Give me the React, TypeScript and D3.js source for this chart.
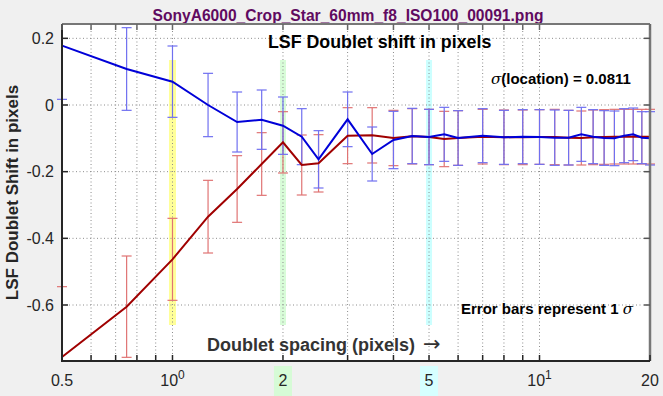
import React from "react";
import * as d3 from "d3";

// doublet spacing (pixels)
const spacing = [0.5, 0.75, 1, 1.25, 1.5, 1.75, 2, 2.25, 2.5, 3, 3.5, 4, 4.5, 5, 5.5, 6, 7, 8, 9, 10, 11, 12, 13, 14, 15, 16, 17, 18, 19, 20];
// blue series: shift and 1 sigma
const blueShift = [0.178, 0.108, 0.07, 0.0, -0.051, -0.044, -0.062, -0.095, -0.163, -0.043, -0.147, -0.105, -0.093, -0.096, -0.088, -0.099, -0.092, -0.097, -0.095, -0.096, -0.098, -0.098, -0.088, -0.095, -0.099, -0.1, -0.092, -0.088, -0.098, -0.1];
const blueSigma = [0.161, 0.124, 0.107, 0.095, 0.09, 0.089, 0.086, 0.084, 0.086, 0.082, 0.081, 0.086, 0.083, 0.083, 0.081, 0.082, 0.081, 0.081, 0.081, 0.082, 0.083, 0.082, 0.081, 0.081, 0.082, 0.082, 0.081, 0.079, 0.078, 0.08];
// red series: shift and 1 sigma
const redShift = [-0.756, -0.605, -0.463, -0.335, -0.252, -0.177, -0.112, -0.18, -0.175, -0.092, -0.091, -0.099, -0.094, -0.096, -0.102, -0.099, -0.095, -0.097, -0.097, -0.096, -0.096, -0.098, -0.099, -0.097, -0.096, -0.095, -0.095, -0.095, -0.095, -0.095];
const redSigma = [0.211, 0.152, 0.123, 0.109, 0.1, 0.094, 0.092, 0.09, 0.086, 0.084, 0.083, 0.083, 0.083, 0.083, 0.083, 0.082, 0.082, 0.082, 0.082, 0.082, 0.083, 0.082, 0.081, 0.082, 0.082, 0.082, 0.082, 0.082, 0.082, 0.082];

const yTicks = [-0.6, -0.4, -0.2, 0, 0.2];
const xGrid = [0.6, 0.7, 0.8, 0.9, 1, 2, 3, 4, 5, 6, 7, 8, 9, 10];
const xTickMarks = [0.5, 0.6, 0.7, 0.8, 0.9, 1, 2, 3, 4, 5, 6, 7, 8, 9, 10, 20];
const xLabels = [
  { v: 0.5, text: "0.5", bg: null },
  { v: 1, text: "10", sup: "0", bg: null },
  { v: 2, text: "2", bg: "#d6fbd6" },
  { v: 5, text: "5", bg: "#d6ffff" },
  { v: 10, text: "10", sup: "1", bg: null },
  { v: 20, text: "20", bg: null },
];
// highlighted frequencies in the plot
const bands = [
  { v: 1, color: "#ffff99", w: 7 },
  { v: 2, color: "#d8fcd8", w: 6 },
  { v: 5, color: "#ccffff", w: 6 },
];
const bandRange = [0.135, -0.66];

const W = 663;
const H = 396;
const left = 62, right = 650, top = 24, bottom = 361;

const App = () => {
  const x = d3.scaleLog().domain([0.5, 20]).range([left, right]);
  const y = d3.scaleLinear().domain([-0.768, 0.243]).range([bottom, top]);

  const line = d3.line<number>()
    .x((d, i) => x(spacing[i]))
    .y(d => y(d));

  const errorBars = (shift: number[], sigma: number[], color: string, key: string) =>
    spacing.map((s, i) => {
      const cx = x(s);
      const y1 = y(shift[i] + sigma[i]);
      const y2 = y(shift[i] - sigma[i]);
      const inside = (yy: number) => yy >= top - 4 && yy <= bottom + 1;
      return (
        <g key={`${key}-${i}`} stroke={color} strokeWidth={1.2}>
          <line x1={cx} x2={cx} y1={Math.max(y1, top)} y2={Math.min(y2, bottom)} />
          {inside(y1) && <line x1={cx - 5} x2={cx + 5} y1={y1} y2={y1} />}
          {inside(y2) && <line x1={cx - 5} x2={cx + 5} y1={y2} y2={y2} />}
        </g>
      );
    });

  const sigma = (
    <tspan fontStyle="italic" fontWeight="normal" fontFamily="'DejaVu Serif', serif">σ</tspan>
  );

  return (
    <>
      <style>{`body{margin:0}`}</style>
      <svg width={W} height={H} style={{ display: "block", fontFamily: "'Liberation Sans', Arial, sans-serif" }}>
        <rect width={W} height={H} fill="#f0f0f0" />
        <rect x={left} y={top} width={right - left} height={bottom - top} fill="#fff" />

        {/* title */}
        <text x={348} y={21} textAnchor="middle" fontSize={15.6} fontWeight="bold" fill="#600a60">
          SonyA6000_Crop_Star_60mm_f8_ISO100_00091.png
        </text>

        {/* bands */}
        {bands.map(b => (
          <rect key={b.v} x={x(b.v) - b.w / 2} width={b.w} y={y(bandRange[0])}
            height={y(bandRange[1]) - y(bandRange[0])} fill={b.color} />
        ))}

        {/* grid */}
        <g stroke="#8c8c8c" strokeWidth={1} strokeDasharray="1 2.5">
          {xGrid.map(v => (
            <line key={v} x1={x(v)} x2={x(v)} y1={top} y2={bottom} />
          ))}
          {yTicks.map(v => (
            <line key={v} x1={left} x2={right} y1={y(v)} y2={y(v)} />
          ))}
        </g>

        {/* error bars */}
        {errorBars(redShift, redSigma, "#e07474", "r")}
        {errorBars(blueShift, blueSigma, "#7070f0", "b")}

        {/* lines */}
        <path d={line(redShift) ?? ""} fill="none" stroke="#a00000" strokeWidth={2} />
        <path d={line(blueShift) ?? ""} fill="none" stroke="#0000d8" strokeWidth={2} />

        {/* texts in plot */}
        <text x={268} y={48} fontSize={17.8} fontWeight="bold" fill="#000">LSF Doublet shift in pixels</text>
        <text x={491} y={84} fontSize={15} fontWeight="bold" fill="#000">
          {sigma}(location) = 0.0811
        </text>
        <text x={461} y={314} fontSize={15} fontWeight="bold" fill="#000">
          Error bars represent 1 {sigma}
        </text>
        <text x={207} y={351} fontSize={18} fontWeight="bold" fill="#333">
          Doublet spacing (pixels)
          <tspan dx={8} fontWeight="normal" fontFamily="'DejaVu Sans', sans-serif" fontSize={21}>→</tspan>
        </text>

        {/* axes frame */}
        <line x1={left} x2={right} y1={top} y2={top} stroke="#777" strokeWidth={2} />
        <line x1={right} x2={right} y1={top} y2={bottom} stroke="#777" strokeWidth={2.5} />
        <line x1={left} x2={left} y1={top} y2={bottom + 1} stroke="#262626" strokeWidth={2} />
        <line x1={left} x2={right} y1={bottom} y2={bottom} stroke="#262626" strokeWidth={2} />

        {/* ticks */}
        <g stroke="#262626" strokeWidth={1.5}>
          {xTickMarks.map(v => (
            <g key={v}>
              <line x1={x(v)} x2={x(v)} y1={bottom} y2={bottom - 6} />
              <line x1={x(v)} x2={x(v)} y1={top} y2={top + 6} stroke="#666" />
            </g>
          ))}
          {yTicks.map(v => (
            <g key={v}>
              <line x1={left} x2={left + 6} y1={y(v)} y2={y(v)} />
              <line x1={right} x2={right - 6} y1={y(v)} y2={y(v)} stroke="#555" />
            </g>
          ))}
        </g>

        {/* y tick labels */}
        {yTicks.map(v => (
          <text key={v} x={54} y={y(v)} dy="0.35em" textAnchor="end" fontSize={16} fill="#262626">
            {d3.format("")(v).replace("−", "-")}
          </text>
        ))}

        {/* x tick labels */}
        {xLabels.map(l => (
          <g key={l.v}>
            {l.bg && <rect x={x(l.v) - 9} y={366} width={18} height={H - 366} fill={l.bg} />}
            <text x={x(l.v)} y={386} textAnchor="middle" fontSize={16} fill="#262626">
              {l.text}
              {l.sup && <tspan dy={-7} fontSize={12}>{l.sup}</tspan>}
            </text>
          </g>
        ))}

        {/* y label */}
        <text transform={`translate(17.5,${(top + bottom) / 2}) rotate(-90)`} textAnchor="middle"
          fontSize={17} fontWeight="bold" fill="#262626">
          LSF Doublet Shift in pixels
        </text>
      </svg>
    </>
  );
};

export default App;
